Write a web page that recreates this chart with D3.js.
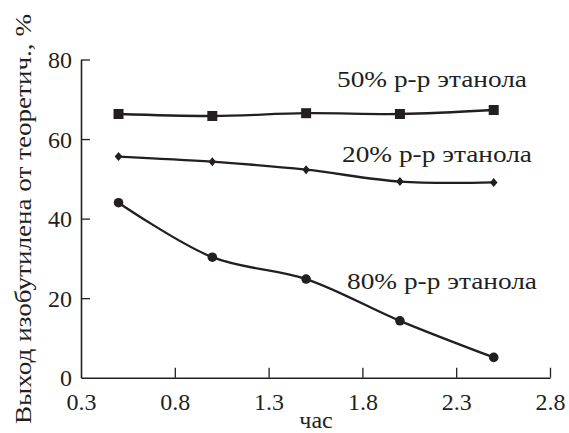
<!DOCTYPE html>
<html><head><meta charset="utf-8">
<script src="https://cdn.jsdelivr.net/npm/d3@7"></script>
<style>body{margin:0;background:#fff}svg{display:block}</style>
</head><body>
<svg id="c" width="569" height="433"></svg>
<script>
const hours = [0.5, 1.0, 1.5, 2.0, 2.5];
const series50 = [66.3, 65.8, 66.5, 66.3, 67.3];
const series20 = [55.6, 54.3, 52.3, 49.3, 49.1];
const series80 = [44.0, 30.3, 24.8, 14.3, 5.1];
const seriesNames = ["50% р-р этанола", "20% р-р этанола", "80% р-р этанола"];
const xTicks = [0.3, 0.8, 1.3, 1.8, 2.3, 2.8];
const yTicks = [0, 20, 40, 60, 80];
const xTitle = "час";
const yTitle = "Выход изобутилена от теоретич., %";

const FONT = "'Liberation Serif', 'Times New Roman', serif";
const ink = "#231f20";
const svg = d3.select("#c");
const x = d3.scaleLinear().domain([0.3, 2.8]).range([81, 550]);
const y = d3.scaleLinear().domain([0, 80]).range([377.7, 59.5]);

const xAxis = d3.axisBottom(x).tickValues(xTicks).tickFormat(d3.format(".1f")).tickSizeInner(-10).tickSizeOuter(0).tickPadding(15);
const gx = svg.append("g").attr("transform", `translate(0,${y(0)})`).call(xAxis);
const yAxis = d3.axisLeft(y).tickValues(yTicks).tickFormat(d3.format("d")).tickSizeInner(-9).tickSizeOuter(0).tickPadding(18);
const gy = svg.append("g").attr("transform", `translate(${x(0.3)},0)`).call(yAxis);
[gx, gy].forEach(g => {
  g.select(".domain").attr("stroke", ink).attr("stroke-width", 1.6);
  g.selectAll(".tick line").attr("stroke", ink).attr("stroke-width", 1.3);
  g.selectAll(".tick text").style("font-family", FONT).style("font-size", "24px").attr("fill", ink);
});
gx.selectAll(".tick").filter(d => d === 0.3).select("line").remove();
gy.selectAll(".tick").filter(d => d === 0).select("line").remove();
gx.selectAll(".tick text").attr("dy", "0.71em");
gy.selectAll(".tick text").attr("dy", "0.34em").attr("dx", 9);

const line = d3.line().x((d, i) => x(hours[i])).y(d => y(d)).curve(d3.curveCatmullRom.alpha(0.5));
[series50, series20, series80].forEach(s => {
  svg.append("path").datum(s).attr("d", line).attr("fill", "none").attr("stroke", ink).attr("stroke-width", 2.3);
});
svg.append("g").selectAll("rect").data(series50).join("rect")
  .attr("x", (d, i) => x(hours[i]) - 5).attr("y", d => y(d) - 5).attr("width", 10).attr("height", 10).attr("fill", ink);
svg.append("g").selectAll("path").data(series20).join("path")
  .attr("transform", (d, i) => `translate(${x(hours[i])},${y(d)})`)
  .attr("d", "M0,-4.5L3.8,0L0,4.5L-3.8,0Z").attr("fill", ink);
svg.append("g").selectAll("circle").data(series80).join("circle")
  .attr("cx", (d, i) => x(hours[i])).attr("cy", d => y(d)).attr("r", 4.8).attr("fill", ink);

const labelPos = [[337, 86.7], [342, 161.7], [347, 289]];
seriesNames.forEach((t, i) => {
  svg.append("text").attr("x", labelPos[i][0]).attr("y", labelPos[i][1])
    .style("font-family", FONT).style("font-size", "24px").attr("fill", ink)
    .attr("textLength", 190).attr("lengthAdjust", "spacingAndGlyphs").text(t);
});
svg.append("text").attr("x", 316).attr("y", 428).attr("text-anchor", "middle")
  .style("font-family", FONT).style("font-size", "24px").attr("fill", ink).text(xTitle);
svg.append("text").attr("transform", "translate(31,219) rotate(-90)").attr("text-anchor", "middle")
  .style("font-family", FONT).style("font-size", "24px").attr("fill", ink)
  .attr("textLength", 410).attr("lengthAdjust", "spacingAndGlyphs").text(yTitle);
</script>
</body></html>
